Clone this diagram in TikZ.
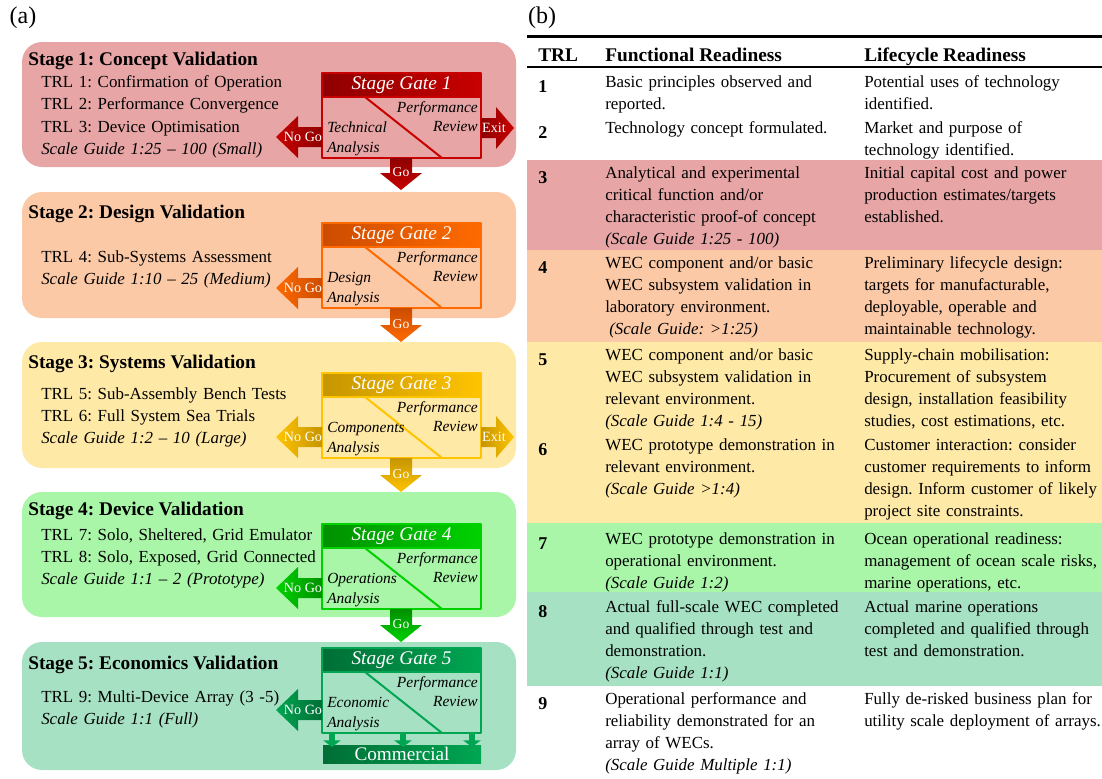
\documentclass[tikz,border=0pt]{standalone}
\usepackage{fontspec}
\setmainfont{Liberation Serif}
\usetikzlibrary{arrows.meta}
\frenchspacing

\definecolor{conceptbg}{HTML}{E7A5A6}
\definecolor{concept}{HTML}{C80000}
\definecolor{conceptdk}{HTML}{8E0000}
\definecolor{designbg}{HTML}{FCC9A7}
\definecolor{design}{HTML}{FF6A00}
\definecolor{designdk}{HTML}{CC4C00}
\definecolor{systemsbg}{HTML}{FFE9A7}
\definecolor{systems}{HTML}{FFC400}
\definecolor{systemsdk}{HTML}{C69500}
\definecolor{devicebg}{HTML}{A9F6A9}
\definecolor{device}{HTML}{00D200}
\definecolor{devicedk}{HTML}{009000}
\definecolor{economicsbg}{HTML}{A6E1C4}
\definecolor{economics}{HTML}{00A652}
\definecolor{economicsdk}{HTML}{006E36}

\newcommand{\stagegate}[4]{%
  \shade[left color=#2dk,right color=#2] (322,#1) rectangle (481,#1+24);
  \draw[#2,line width=1.5] (322,#1) rectangle (481,#1+85) (322,#1+24) -- (481,#1+24);
  \draw[#2,line width=1.5] (365,#1+24) -- (442,#1+85);
  \node[gatehead] (gate#3) at (401.5,#1+12.5) {Stage Gate #3};
  \node[gatetxt,anchor=base east] (perf#3) at (478,#1+39) {Performance};
  \node[gatetxt,anchor=base east] (rev#3) at (478,#1+58) {Review};
  \node[gatetxt,anchor=base west] (ana#3) at (327,#1+59) {#4};
  \node[gatetxt,anchor=base west] (anb#3) at (327,#1+79) {Analysis};}
\newcommand{\nogo}[3]{%
  \shade[left color=#2,right color=#2dk] (322,#1-10) -- (298,#1-10) -- (298,#1-21) -- (276,#1)
    -- (298,#1+21) -- (298,#1+10) -- (322,#1+10) -- cycle;
  \node[arrowtxt] (#3) at (303,#1) {No Go};}
\newcommand{\exitarrow}[3]{%
  \shade[left color=#2dk,right color=#2] (481,#1-10) -- (496,#1-10) -- (496,#1-21) -- (514,#1)
    -- (496,#1+21) -- (496,#1+10) -- (481,#1+10) -- cycle;
  \node[arrowtxt] (#3) at (494,#1) {Exit};}
\newcommand{\goarrow}[4]{%
  \shade[top color=#3dk,bottom color=#3] (390,#1) -- (412,#1) -- (412,#2-17) -- (422,#2-17) -- (401,#2)
    -- (380,#2-17) -- (390,#2-17) -- cycle;
  \node[arrowtxt,font=\fontsize{10.2}{12}\selectfont] (#4) at (401,#2-18) {Go};}

\begin{document}
\begin{tikzpicture}[x=0.75pt,y=-0.75pt,line join=round,
    panel/.style={inner sep=0pt,font=\fontsize{18}{20}\selectfont},
    stagetitle/.style={anchor=base west,inner sep=0pt,font=\fontsize{14.5}{17}\selectfont\bfseries},
    stagetext/.style={anchor=base west,inner sep=0pt,text width=230pt,align=left,font=\fontsize{12.7}{16.7}\selectfont},
    gatehead/.style={text=white,inner sep=0pt,font=\fontsize{14.5}{17}\selectfont\itshape},
    gatetxt/.style={inner sep=0pt,font=\fontsize{11.6}{14}\selectfont\itshape},
    arrowtxt/.style={text=white,inner sep=0pt,font=\fontsize{10.6}{12}\selectfont},
    head/.style={anchor=base west,inner sep=0pt,font=\fontsize{14.5}{17}\selectfont\bfseries},
    num/.style={anchor=base west,inner sep=0pt,font=\fontsize{13.5}{16}\selectfont\bfseries},
    cell/.style={anchor=base west,inner sep=0pt,text width=200pt,align=left,font=\fontsize{12.7}{16.7}\selectfont}]
  \useasboundingbox (0,0) rectangle (1102,778);
  \node[panel] (pa) at (23,18) {(a)};
  \node[panel] (pb) at (542,18) {(b)};

  \fill[conceptbg,rounded corners=15]   (22,42)  rectangle (516,167);
  \fill[designbg,rounded corners=15]    (22,192) rectangle (516,318);
  \fill[systemsbg,rounded corners=15]   (22,342) rectangle (516,468);
  \fill[devicebg,rounded corners=15]    (22,492) rectangle (516,617);
  \fill[economicsbg,rounded corners=15] (22,642) rectangle (516,770);

  \node[stagetitle] (st1) at (28,65)  {Stage 1: Concept Validation};
  \node[stagetitle] (st2) at (28,218) {Stage 2: Design Validation};
  \node[stagetitle] (st3) at (28,368) {Stage 3: Systems Validation};
  \node[stagetitle] (st4) at (28,515) {Stage 4: Device Validation};
  \node[stagetitle] (st5) at (28,669) {Stage 5: Economics Validation};
  \node[stagetext] (sx1) at (41,87.5) {TRL 1: Confirmation of Operation\\TRL 2: Performance Convergence\\
    TRL 3: Device Optimisation\\\textit{Scale Guide 1:25 -- 100 (Small)}};
  \node[stagetext] (sx2) at (41,262) {TRL 4: Sub-Systems Assessment\\\textit{Scale Guide 1:10 -- 25 (Medium)}};
  \node[stagetext] (sx3) at (41,399) {TRL 5: Sub-Assembly Bench Tests\\TRL 6: Full System Sea Trials\\
    \textit{Scale Guide 1:2 -- 10 (Large)}};
  \node[stagetext] (sx4) at (41,540) {TRL 7: Solo, Sheltered, Grid Emulator\\TRL 8: Solo, Exposed, Grid Connected\\
    \textit{Scale Guide 1:1 -- 2 (Prototype)}};
  \node[stagetext] (sx5) at (41,702) {TRL 9: Multi-Device Array (3 -5)\\\textit{Scale Guide 1:1 (Full)}};

  \stagegate{73}{concept}{1}{Technical}
  \stagegate{223}{design}{2}{Design}
  \stagegate{373}{systems}{3}{Components}
  \stagegate{524}{device}{4}{Operations}
  \stagegate{648}{economics}{5}{Economic}
  \nogo{137}{concept}{ng1}
  \nogo{288}{design}{ng2}
  \nogo{437}{systems}{ng3}
  \nogo{588}{device}{ng4}
  \nogo{710}{economics}{ng5}
  \exitarrow{128}{concept}{ex1}
  \exitarrow{437}{systems}{ex3}
  \goarrow{158}{190}{concept}{go1}
  \goarrow{308}{342}{design}{go2}
  \goarrow{458}{492}{systems}{go3}
  \goarrow{609}{642}{device}{go4}

  \shade[left color=economicsdk,right color=economics] (323,745) rectangle (481,763);
  \node[text=white,inner sep=0pt,font=\fontsize{14.4}{17}\selectfont] (com) at (402,754) {Commercial};
  \coordinate (c1) at (332,733);
  \coordinate (c2) at (403,733);
  \coordinate (c3) at (472,733);
  \foreach \c in {c1,c2,c3}
    \draw[economics,line width=4.5,-{Triangle[width=13pt,length=5pt]}] (\c) -- (\c |- com.north);

  \fill[conceptbg]   (527,160) rectangle (1102,250);
  \fill[designbg]    (527,250) rectangle (1102,342);
  \fill[systemsbg]   (527,342) rectangle (1102,523);
  \fill[devicebg]    (527,523) rectangle (1102,592);
  \fill[economicsbg] (527,592) rectangle (1102,686);
  \draw[line width=2.2] (527,36.5) -- (1102,36.5);
  \draw[line width=1.2] (527,67) -- (1102,67);

  \node[head] (h0) at (538,61) {TRL};
  \node[head] (h1) at (605,61) {Functional Readiness};
  \node[head] (h2) at (864,61) {Lifecycle Readiness};

  \node[num] (n1) at (538,92)  {1};
  \node[num] (n2) at (538,138) {2};
  \node[num] (n3) at (538,183) {3};
  \node[num] (n4) at (538,273) {4};
  \node[num] (n5) at (538,365) {5};
  \node[num] (n6) at (538,455) {6};
  \node[num] (n7) at (538,549) {7};
  \node[num] (n8) at (538,617) {8};
  \node[num] (n9) at (538,709) {9};

  \node[cell] (f1) at (605,87)  {Basic principles observed and\\reported.};
  \node[cell] (f2) at (605,133) {Technology concept formulated.};
  \node[cell] (f3) at (605,178) {Analytical and experimental\\critical function and/or\\
    characteristic proof-of concept\\\textit{(Scale Guide 1:25 - 100)}};
  \node[cell] (f4) at (605,268) {WEC component and/or basic\\WEC subsystem validation in\\
    laboratory environment.\\\hspace*{3pt}\textit{(Scale Guide: >1:25)}};
  \node[cell] (f5) at (605,360) {WEC component and/or basic\\WEC subsystem validation in\\
    relevant environment.\\\textit{(Scale Guide 1:4 - 15)}};
  \node[cell] (f6) at (605,450) {WEC prototype demonstration in\\relevant environment.\\
    \textit{(Scale Guide >1:4)}};
  \node[cell] (f7) at (605,544) {WEC prototype demonstration in\\operational environment.\\
    \textit{(Scale Guide 1:2)}};
  \node[cell] (f8) at (605,612) {Actual full-scale WEC completed\\and qualified through test and\\
    demonstration.\\\textit{(Scale Guide 1:1)}};
  \node[cell] (f9) at (605,704) {Operational performance and\\reliability demonstrated for an\\
    array of WECs.\\\textit{(Scale Guide Multiple 1:1)}};

  \node[cell] (l1) at (864,87)  {Potential uses of technology\\identified.};
  \node[cell] (l2) at (864,133) {Market and purpose of\\technology identified.};
  \node[cell] (l3) at (864,178) {Initial capital cost and power\\production estimates/targets\\established.};
  \node[cell] (l4) at (864,268) {Preliminary lifecycle design:\\targets for manufacturable,\\
    deployable, operable and\\maintainable technology.};
  \node[cell] (l5) at (864,360) {Supply-chain mobilisation:\\Procurement of subsystem\\
    design, installation feasibility\\studies, cost estimations, etc.};
  \node[cell] (l6) at (864,450) {Customer interaction: consider\\customer requirements to inform\\
    design. Inform customer of likely\\project site constraints.};
  \node[cell] (l7) at (864,544) {Ocean operational readiness:\\management of ocean scale risks,\\
    marine operations, etc.};
  \node[cell] (l8) at (864,612) {Actual marine operations\\completed and qualified through\\
    test and demonstration.};
  \node[cell] (l9) at (864,704) {Fully de-risked business plan for\\utility scale deployment of arrays.};
\end{tikzpicture}
\end{document}
